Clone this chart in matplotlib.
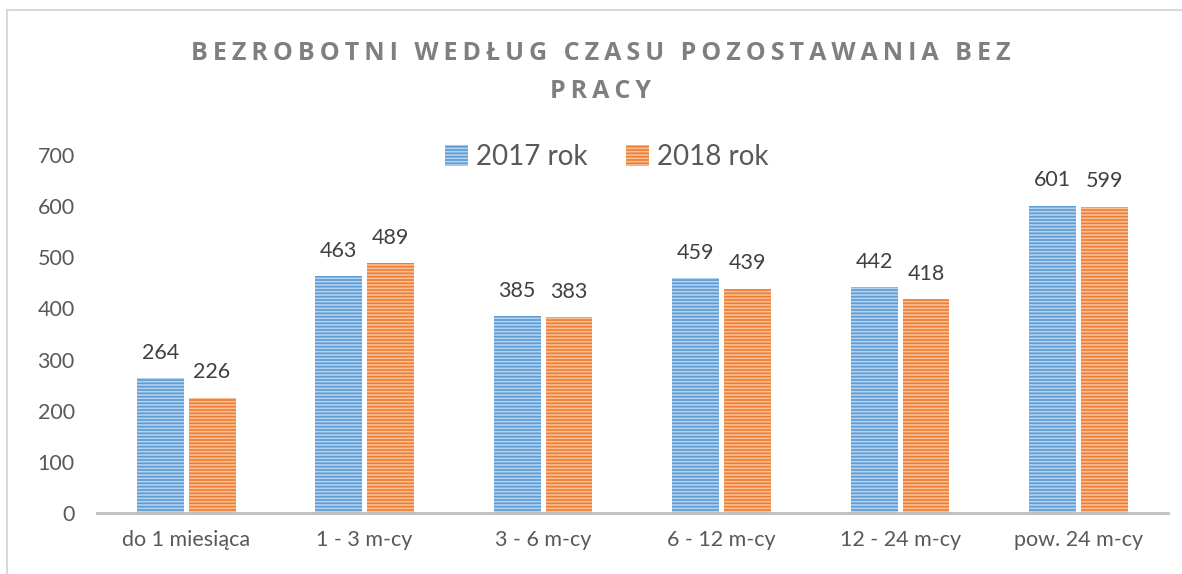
import numpy as np
import matplotlib
matplotlib.use("Agg")
from matplotlib import pyplot as plt
from matplotlib.patches import Rectangle, Patch

categories = ["do 1 miesiąca", "1 - 3 m-cy", "3 - 6 m-cy", "6 - 12 m-cy", "12 - 24 m-cy", "pow. 24 m-cy"]
v2017 = [264, 463, 385, 459, 442, 601]
v2018 = [226, 489, 383, 439, 418, 599]
series_names = ["2017 rok", "2018 rok"]
yticks = [0, 100, 200, 300, 400, 500, 600, 700]

blue, blue_light = "#5b9bd5", "#b4d1ee"
orange, orange_light = "#ed7d31", "#f7bf98"
txt = "#595959"

plt.rcParams["font.family"] = ["Lato", "DejaVu Sans"]
plt.rcParams["hatch.linewidth"] = 1.2

fig = plt.figure(figsize=(11.82, 5.74), dpi=100)
ax = fig.add_axes([0.082, 0.106, 0.906, 0.624])

# light frame of the chart area (cropped on right/bottom)
fig.patches.append(Rectangle((7 / 1182, -0.1), 1.2, 1 - 10 / 574 + 0.1, transform=fig.transFigure,
                             fill=False, edgecolor="#d9d9d9", linewidth=1.5))

x = np.arange(len(categories))
w = 0.263
off = 0.145
b1 = ax.bar(x - off, v2017, w, color=blue, edgecolor=blue_light, linewidth=0, hatch="-----")
b2 = ax.bar(x + off, v2018, w, color=orange, edgecolor=orange_light, linewidth=0, hatch="-----")

for bars, vals in ((b1, v2017), (b2, v2018)):
    for r, v in zip(bars, vals):
        ax.text(r.get_x() + r.get_width() / 2, v + 30, str(v), ha="center", va="bottom",
                fontsize=15.5, color="#404040")

ax.set_xlim(-0.5, len(categories) - 0.5)
ax.set_ylim(0, 700)
ax.set_yticks(yticks)
ax.set_yticklabels([str(t) for t in yticks], fontsize=15.5, color=txt)
ax.set_xticks(x)
ax.set_xticklabels(categories, fontsize=15.5, color=txt)
ax.tick_params(axis="both", length=0)
ax.tick_params(axis="y", pad=16)
ax.tick_params(axis="x", pad=12)
for s in ("top", "right", "left"):
    ax.spines[s].set_visible(False)
ax.spines["bottom"].set_color("#bfbfbf")
ax.spines["bottom"].set_linewidth(2)

title1 = "\u2009".join("BEZROBOTNI WEDŁUG CZASU POZOSTAWANIA BEZ")
title2 = "\u2009".join("PRACY")
fig.text(0.508, 1 - 53 / 574, title1, ha="center", va="center", fontsize=18,
         fontweight="bold", color="#7f7f7f", family=["Open Sans", "DejaVu Sans"])
fig.text(0.508, 1 - 92 / 574, title2, ha="center", va="center", fontsize=18,
         fontweight="bold", color="#7f7f7f", family=["Open Sans", "DejaVu Sans"])

handles = [Patch(facecolor=blue, edgecolor=blue_light, hatch="-----", linewidth=0),
           Patch(facecolor=orange, edgecolor=orange_light, hatch="-----", linewidth=0)]
fig.legend(handles, series_names, loc="center", bbox_to_anchor=(607 / 1182, 1 - 157 / 574),
           ncol=2, frameon=False, fontsize=20, labelcolor=txt, handlelength=0.8,
           handleheight=0.8, handletextpad=0.3, columnspacing=1.4)

fig.savefig("out.png", dpi=100)
